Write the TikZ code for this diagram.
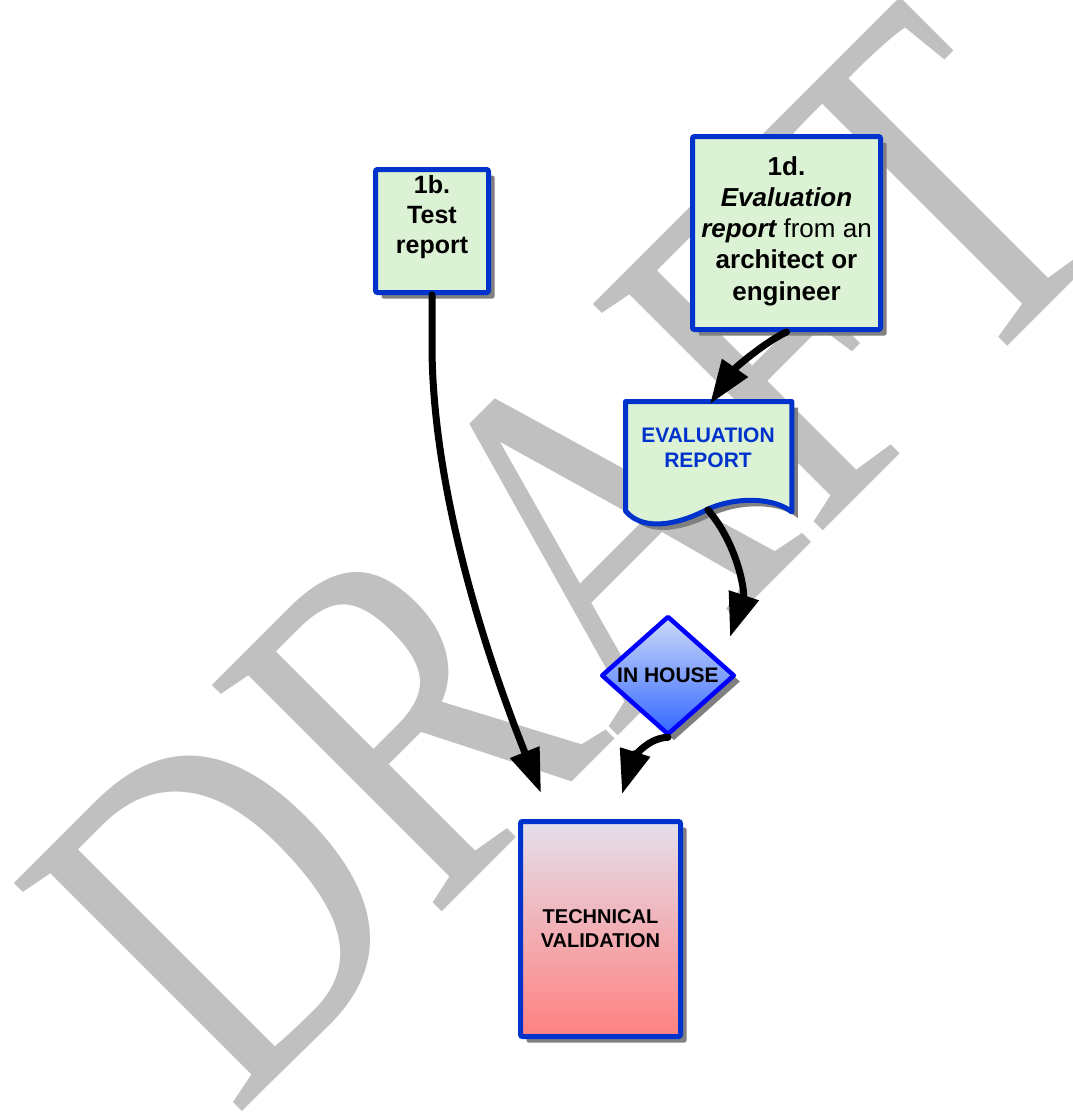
\documentclass[tikz,border=0pt]{standalone}
\usepackage{fontspec}
\setmainfont{Liberation Sans}
\newfontfamily\wmfont{Liberation Serif}
\usetikzlibrary{arrows.meta,shapes.geometric,shadows,calc}

\definecolor{boxblue}{RGB}{0,51,204}
\definecolor{dblue}{RGB}{0,0,255}
\definecolor{lgreen}{RGB}{220,242,212}
\definecolor{shadowgray}{RGB}{128,128,128}
\definecolor{wmgray}{RGB}{192,192,192}
\definecolor{tvtop}{RGB}{228,224,236}
\definecolor{tvbottom}{RGB}{255,128,128}
\definecolor{dtop}{RGB}{205,218,248}
\definecolor{dbottom}{RGB}{51,102,255}

\begin{document}
\begin{tikzpicture}[x=1pt,y=-1pt,
  shade/.style={drop shadow={shadow xshift=6pt,shadow yshift=-6pt,fill=shadowgray,opacity=1}},
  greenbox/.style={draw=boxblue,line width=5pt,fill=lgreen,rounded corners=2pt,
    inner sep=0pt,shade},
  lbl/.style={font=\bfseries\fontsize{25}{30}\selectfont,align=center,inner sep=0pt},
  conn/.style={line width=7pt,line cap=round,-{Triangle[length=44pt,width=30pt]}},
]
\useasboundingbox (0,0) rectangle (1072,1117);

% background watermark
\node[anchor=base west,inner sep=0pt,rotate=45,text=wmgray] (wm) at (234,1120)
  {\wmfont\fontsize{388}{388}\selectfont\scalebox{1}[1.27]{DRAFT}};

% source boxes
\node[greenbox,minimum width=113pt,minimum height=123pt] (b1) at (432,231) {};
\node[lbl] (b1t) at (432,217.5) {1b.\\Test\\report};

\node[greenbox,minimum width=188pt,minimum height=193pt] (d1) at (786.5,233) {};
\node[lbl,font=\bfseries\fontsize{26}{31.25}\selectfont] (d1t) at (786.5,231)
  {1d.\\{\itshape Evaluation}\\{\itshape report} {\mdseries from an}\\architect or\\engineer};

% document shape
\fill[shadowgray,shift={(6,6)}] (625.5,401.5) -- (791.8,401.5) -- (791.8,512)
  .. controls (775,498) and (738,496) .. (708,509)
  .. controls (684,522) and (645,534) .. (625.5,511) -- cycle;
\draw[boxblue,line width=5pt,fill=lgreen,line join=round] (625.5,401.5) -- (791.8,401.5) -- (791.8,512)
  .. controls (775,498) and (738,496) .. (708,509)
  .. controls (684,522) and (645,534) .. (625.5,511) -- cycle;
\node[lbl,font=\bfseries\fontsize{21}{25}\selectfont,text=boxblue] (er) at (708,448)
  {EVALUATION\\REPORT};
\coordinate (erin) at (710,404);
\coordinate (erout) at (708,510);

% decision
\node[diamond,draw=dblue,line width=4.5pt,line join=round,top color=dtop,bottom color=dbottom,
  minimum width=133.5pt,minimum height=119pt,inner sep=0pt,shade,
  font=\bfseries\fontsize{21}{25}\selectfont] (ih) at (668,675.5) {IN HOUSE};
\coordinate (ihin) at (730,637);

% result box
\node[draw=boxblue,line width=5pt,rounded corners=2pt,top color=tvtop,bottom color=tvbottom,
  minimum width=160pt,minimum height=215pt,inner sep=0pt,shade,align=center,
  font=\bfseries\fontsize{20}{24}\selectfont] (tv) at (600.5,929) {TECHNICAL\\VALIDATION};
\coordinate (tvinA) at (541,793);
\coordinate (tvinB) at (622,794);

% connectors
\draw[conn] (b1.south) -- ++(0,50) .. controls (432,480) and (480,640) .. (tvinA);
\draw[conn] (d1.south) .. controls (765,342) and (735,368) .. (erin);
\draw[conn] (erout) .. controls (738,545) and (745,592) .. (ihin);
\draw[conn] (ih.south) .. controls (645,738) and (632,762) .. (tvinB);
\end{tikzpicture}
\end{document}
